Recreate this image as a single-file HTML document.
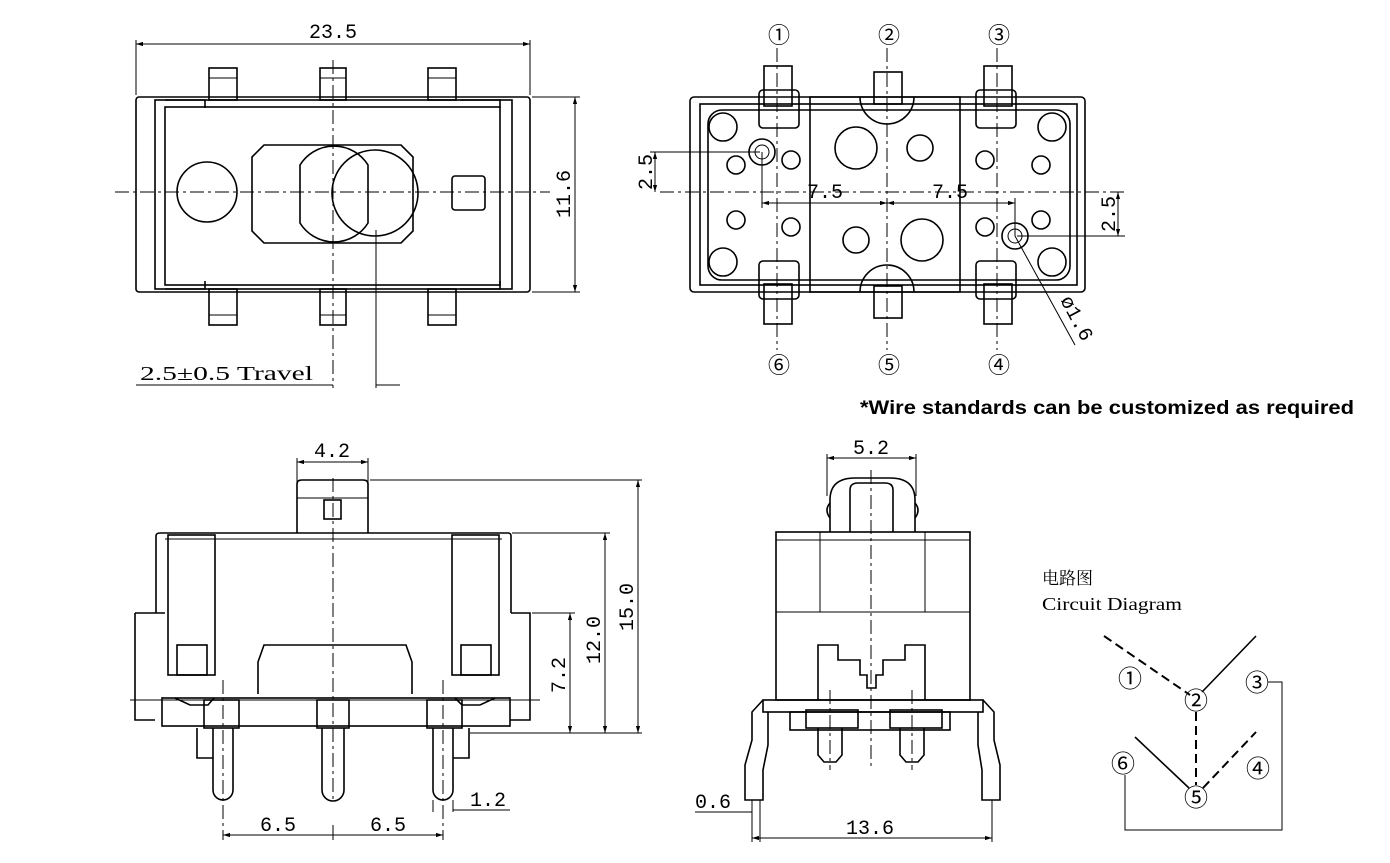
<!DOCTYPE html>
<html><head><meta charset="utf-8"><style>
html,body{margin:0;padding:0;background:#fff;}
svg{display:block}
text{font-family:"Liberation Mono","Noto Sans CJK SC",monospace;fill:#000}
.s{fill:none;stroke:#000;stroke-width:1.6}
.t{fill:none;stroke:#000;stroke-width:1}
.c{fill:none;stroke:#000;stroke-width:1;stroke-dasharray:14 4 3 4}
.d{fill:none;stroke:#000;stroke-width:2;stroke-dasharray:9 5}
</style></head><body>
<svg width="1390" height="863" viewBox="0 0 1390 863" xmlns="http://www.w3.org/2000/svg">
<defs>
<marker id="a" viewBox="0 0 10 10" refX="10" refY="5" markerWidth="7" markerHeight="7" orient="auto-start-reverse"><path d="M0,2 L10,5 L0,8" fill="#000"/></marker>
</defs>

<!-- ===== TOP LEFT VIEW ===== -->
<g>
<line class="t" x1="136" y1="40" x2="136" y2="95"/><line class="t" x1="530" y1="40" x2="530" y2="95"/>
<line class="t" x1="136" y1="44" x2="530" y2="44" marker-start="url(#a)" marker-end="url(#a)"/>
<text x="333" y="38" font-size="20" text-anchor="middle">23.5</text>
<line class="t" x1="532" y1="97" x2="580" y2="97"/><line class="t" x1="532" y1="292" x2="580" y2="292"/>
<line class="t" x1="575" y1="97" x2="575" y2="292" marker-start="url(#a)" marker-end="url(#a)"/>
<text font-size="20" text-anchor="middle" transform="translate(570,194) rotate(-90)">11.6</text>
<rect class="s" x="136" y="97" width="394" height="195" rx="3"/>
<rect class="s" x="155" y="100" width="357" height="189"/>
<rect class="s" x="165" y="107" width="335" height="178"/>
<path class="s" d="M165,100 h40 v8 M460,100 h40 v8 M165,289 h40 v-8 M460,289 h40 v-8"/>
<rect class="s" x="209" y="68" width="28" height="32"/><rect class="s" x="320" y="68" width="26" height="32"/><rect class="s" x="428" y="68" width="28" height="32"/>
<rect class="s" x="209" y="289" width="28" height="36"/><rect class="s" x="320" y="289" width="26" height="36"/><rect class="s" x="428" y="289" width="28" height="36"/>
<line class="t" x1="209" y1="78" x2="237" y2="78"/><line class="t" x1="320" y1="78" x2="346" y2="78"/><line class="t" x1="428" y1="78" x2="456" y2="78"/>
<line class="t" x1="209" y1="315" x2="237" y2="315"/><line class="t" x1="320" y1="315" x2="346" y2="315"/><line class="t" x1="428" y1="315" x2="456" y2="315"/>
<circle class="s" cx="207" cy="192" r="30"/>
<path class="s" d="M264,145 H401 L413,157 V231 L401,243 H264 L252,231 V157 Z"/>
<circle class="s" cx="375" cy="193" r="43"/>
<path class="s" d="M300,165 A40,40 0 0 1 368,165 V223 A40,40 0 0 1 300,223 Z" fill="#fff"/>
<rect class="s" x="452" y="176" width="33" height="34" rx="3"/>
<line class="c" x1="115" y1="192" x2="550" y2="192"/>
<line class="c" x1="333" y1="60" x2="333" y2="388"/>
<line class="t" x1="376" y1="230" x2="376" y2="388"/>
<line class="t" x1="136" y1="385" x2="333" y2="385"/>
<line class="t" x1="376" y1="385" x2="400" y2="385"/>
<text x="140" y="380" font-size="20" textLength="173" lengthAdjust="spacingAndGlyphs" style="font-family:'Liberation Serif',serif">2.5±0.5 Travel</text>
</g>

<!-- ===== TOP RIGHT VIEW ===== -->
<g>
<rect class="s" x="690" y="97" width="395" height="195" rx="4"/>
<rect class="s" x="700" y="104" width="377" height="181"/>
<rect class="s" x="708" y="110" width="362" height="170" rx="14"/>
<path class="s" d="M810,97 H960 V292 H810 Z" fill="#fff"/>
<path class="s" d="M860,97 A27,27 0 0 0 914,97 M860,292 A27,27 0 0 1 914,292"/>
<rect class="s" x="759" y="90" width="40" height="38" rx="4" fill="#fff"/>
<rect class="s" x="976" y="90" width="40" height="38" rx="4" fill="#fff"/>
<rect class="s" x="759" y="261" width="40" height="38" rx="4" fill="#fff"/>
<rect class="s" x="976" y="261" width="40" height="38" rx="4" fill="#fff"/>
<rect class="s" x="764" y="66" width="28" height="40"/><rect class="s" x="874" y="72" width="28" height="32"/><rect class="s" x="984" y="66" width="28" height="40"/>
<rect class="s" x="764" y="284" width="28" height="40"/><rect class="s" x="874" y="286" width="28" height="32"/><rect class="s" x="984" y="284" width="28" height="40"/>
<circle class="s" cx="723" cy="127" r="14"/><circle class="s" cx="1052" cy="127" r="14"/>
<circle class="s" cx="723" cy="262" r="14"/><circle class="s" cx="1052" cy="262" r="14"/>
<circle class="s" cx="736" cy="165" r="9"/><circle class="s" cx="736" cy="220" r="9"/><circle class="s" cx="791" cy="160" r="9"/><circle class="s" cx="791" cy="227" r="9"/>
<circle class="s" cx="985" cy="160" r="9"/><circle class="s" cx="985" cy="227" r="9"/><circle class="s" cx="1041" cy="165" r="9"/><circle class="s" cx="1041" cy="220" r="9"/>
<circle class="s" cx="856" cy="148" r="21"/><circle class="s" cx="920" cy="148" r="13"/>
<circle class="s" cx="856" cy="240" r="13"/><circle class="s" cx="922" cy="240" r="21"/>
<circle class="s" cx="762" cy="152" r="13"/><circle class="t" cx="762" cy="152" r="7"/>
<circle class="s" cx="1015" cy="236" r="13"/><circle class="t" cx="1015" cy="236" r="7"/>
<line class="c" x1="660" y1="192" x2="1125" y2="192"/>
<line class="c" x1="777" y1="48" x2="777" y2="350"/><line class="c" x1="887" y1="48" x2="887" y2="350"/><line class="c" x1="997" y1="48" x2="997" y2="350"/>
<line class="t" x1="650" y1="152" x2="760" y2="152"/>
<line class="t" x1="655" y1="152" x2="655" y2="192" marker-start="url(#a)" marker-end="url(#a)"/>
<text font-size="20" text-anchor="middle" transform="translate(652,172) rotate(-90)">2.5</text>
<line class="t" x1="762" y1="152" x2="762" y2="208"/><line class="t" x1="1015" y1="236" x2="1015" y2="198"/>
<line class="t" x1="762" y1="203" x2="887" y2="203" marker-start="url(#a)" marker-end="url(#a)"/>
<line class="t" x1="887" y1="203" x2="1015" y2="203" marker-start="url(#a)" marker-end="url(#a)"/>
<text x="825" y="198" font-size="20" text-anchor="middle">7.5</text>
<text x="950" y="198" font-size="20" text-anchor="middle">7.5</text>
<line class="t" x1="1017" y1="236" x2="1125" y2="236"/>
<line class="t" x1="1118" y1="192" x2="1118" y2="236" marker-start="url(#a)" marker-end="url(#a)"/>
<text font-size="20" text-anchor="middle" transform="translate(1115,214) rotate(-90)">2.5</text>
<line class="t" x1="1015" y1="236" x2="1075" y2="345"/>
<text font-size="20" transform="translate(1060,300) rotate(62)">ø1.6</text>
<g font-size="22" text-anchor="middle" style="font-family:'DejaVu Sans',sans-serif">
<text x="779" y="43">①</text><text x="889" y="43">②</text><text x="999" y="43">③</text>
<text x="779" y="373">⑥</text><text x="889" y="373">⑤</text><text x="999" y="373">④</text>
</g>
<text x="860" y="414" font-size="19" font-weight="bold" textLength="494" lengthAdjust="spacingAndGlyphs" style="font-family:'Liberation Sans',sans-serif">*Wire standards can be customized as required</text>
</g>

<!-- ===== BOTTOM LEFT VIEW ===== -->
<g>
<line class="t" x1="297" y1="458" x2="297" y2="482"/><line class="t" x1="368" y1="458" x2="368" y2="482"/>
<line class="t" x1="297" y1="462" x2="368" y2="462" marker-start="url(#a)" marker-end="url(#a)"/>
<text x="332" y="457" font-size="20" text-anchor="middle">4.2</text>
<path class="s" d="M297,533 V484 Q297,480 302,480 H363 Q368,480 368,484 V533"/>
<line class="t" x1="297" y1="498" x2="368" y2="498"/>
<rect class="s" x="324" y="500" width="17" height="19"/>
<path class="s" d="M156,613 V536 Q156,533 160,533 H508 Q511,533 511,536 V613"/>
<line class="t" x1="165" y1="539" x2="502" y2="539"/>
<rect class="s" x="168" y="535" width="47" height="140"/><rect class="s" x="452" y="535" width="47" height="140"/>
<rect class="s" x="177" y="645" width="30" height="30"/><rect class="s" x="461" y="645" width="30" height="30"/>
<path class="s" d="M135,613 H165 M135,613 V700 M511,613 H530 V700"/>
<path class="s" d="M135,700 V720 H155 M530,700 V720 H510"/>
<path class="s" d="M258,694 V662 L264,645 H406 L412,662 V694"/>
<path class="s" d="M175,698 L190,705 H208 L214,698"/>
<path class="s" d="M455,698 L462,705 H480 L495,698"/>
<rect class="s" x="162" y="698" width="348" height="28"/>
<line class="t" x1="130" y1="700" x2="540" y2="700"/>
<rect class="s" x="204" y="700" width="35" height="28"/><rect class="s" x="317" y="700" width="32" height="28"/><rect class="s" x="427" y="700" width="35" height="28"/>
<path class="s" d="M213,728 V790 A10,10 0 0 0 233,790 V728"/>
<path class="s" d="M322,728 V790 A11,11 0 0 0 344,790 V728"/>
<path class="s" d="M433,728 V790 A10,10 0 0 0 453,790 V728"/>
<path class="s" d="M197,728 V758 H213 M453,758 H469 V728"/>
<line class="c" x1="333" y1="478" x2="333" y2="800"/>
<line class="c" x1="223" y1="680" x2="223" y2="840"/><line class="c" x1="443" y1="680" x2="443" y2="840"/>
<line class="t" x1="370" y1="480" x2="642" y2="480"/>
<line class="t" x1="512" y1="533" x2="610" y2="533"/>
<line class="t" x1="532" y1="613" x2="575" y2="613"/>
<line class="t" x1="470" y1="733" x2="642" y2="733"/>
<line class="t" x1="638" y1="480" x2="638" y2="733" marker-start="url(#a)" marker-end="url(#a)"/>
<line class="t" x1="605" y1="533" x2="605" y2="733" marker-start="url(#a)" marker-end="url(#a)"/>
<line class="t" x1="570" y1="613" x2="570" y2="733" marker-start="url(#a)" marker-end="url(#a)"/>
<text font-size="20" text-anchor="middle" transform="translate(633,607) rotate(-90)">15.0</text>
<text font-size="20" text-anchor="middle" transform="translate(600,640) rotate(-90)">12.0</text>
<text font-size="20" text-anchor="middle" transform="translate(565,675) rotate(-90)">7.2</text>
<line class="t" x1="223" y1="835" x2="443" y2="835" marker-start="url(#a)" marker-end="url(#a)"/>
<line class="t" x1="333" y1="825" x2="333" y2="840"/>
<text x="278" y="831" font-size="20" text-anchor="middle">6.5</text>
<text x="388" y="831" font-size="20" text-anchor="middle">6.5</text>
<line class="t" x1="433" y1="800" x2="433" y2="812"/><line class="t" x1="453" y1="800" x2="453" y2="812"/>
<line class="t" x1="453" y1="810" x2="510" y2="810"/>
<text x="470" y="806" font-size="20">1.2</text>
</g>

<!-- ===== BOTTOM RIGHT VIEW ===== -->
<g>
<line class="t" x1="827" y1="454" x2="827" y2="496"/><line class="t" x1="916" y1="454" x2="916" y2="496"/>
<line class="t" x1="827" y1="458" x2="916" y2="458" marker-start="url(#a)" marker-end="url(#a)"/>
<text x="871" y="454" font-size="20" text-anchor="middle">5.2</text>
<path class="s" d="M830,532 V500 Q830,478 855,478 H890 Q915,478 915,500 V532"/>
<path class="s" d="M850,532 V490 Q850,483 858,483 H885 Q893,483 893,490 V532"/>
<path class="s" d="M830,503 Q824,510 830,518 M915,503 Q921,510 915,518"/>
<rect class="s" x="776" y="532" width="194" height="168"/>
<line class="t" x1="776" y1="540" x2="970" y2="540"/>
<line class="t" x1="776" y1="612" x2="970" y2="612"/>
<line class="t" x1="820" y1="532" x2="820" y2="612"/><line class="t" x1="925" y1="532" x2="925" y2="612"/>
<path class="s" d="M818,700 V645 H838 V660 H860 V675 H867 V688 H876 V675 H883 V660 H905 V645 H925 V700"/>
<rect class="s" x="763" y="700" width="220" height="12"/>
<rect class="s" x="790" y="712" width="160" height="18"/>
<rect class="s" x="806" y="710" width="52" height="18"/><rect class="s" x="890" y="710" width="52" height="18"/>
<path class="s" d="M818,728 V755 L824,762 H836 L842,755 V728 M900,728 V755 L906,762 H918 L924,755 V728"/>
<path class="s" d="M763,700 L752,712 V740 L745,765 V800 H763 V770 L768,745 V712"/>
<path class="s" d="M983,700 L994,712 V740 L1000,765 V800 H982 V770 L978,745 V712"/>
<line class="c" x1="871" y1="470" x2="871" y2="770"/>
<line class="c" x1="830" y1="690" x2="830" y2="770"/><line class="c" x1="912" y1="690" x2="912" y2="770"/>
<line class="t" x1="752" y1="800" x2="752" y2="842"/><line class="t" x1="760" y1="800" x2="760" y2="842"/><line class="t" x1="992" y1="800" x2="992" y2="842"/>
<line class="t" x1="695" y1="812" x2="752" y2="812"/>
<text x="695" y="808" font-size="20">0.6</text>
<line class="t" x1="752" y1="838" x2="992" y2="838" marker-start="url(#a)" marker-end="url(#a)"/>
<text x="870" y="834" font-size="20" text-anchor="middle">13.6</text>
</g>

<!-- ===== CIRCUIT ===== -->
<g>
<text x="1042" y="584" font-size="17" style="font-family:'Liberation Serif','Noto Serif CJK SC',serif">电路图</text>
<text x="1042" y="610" font-size="18" textLength="140" lengthAdjust="spacingAndGlyphs" style="font-family:'Liberation Serif',serif">Circuit Diagram</text>
<line class="d" x1="1104" y1="636" x2="1190" y2="695"/>
<line class="s" x1="1202" y1="692" x2="1256" y2="636"/>
<line class="d" x1="1196" y1="712" x2="1196" y2="785"/>
<line class="s" x1="1135" y1="737" x2="1189" y2="788"/>
<line class="d" x1="1203" y1="788" x2="1256" y2="732"/>
<polyline class="t" points="1268,682 1282,682 1282,830 1125,830 1125,775"/>
<g font-size="24" text-anchor="middle" style="font-family:'DejaVu Sans',sans-serif">
<text x="1130" y="687">①</text><text x="1196" y="709">②</text><text x="1257" y="691">③</text>
<text x="1123" y="772">⑥</text><text x="1196" y="806">⑤</text><text x="1258" y="777">④</text>
</g>
</g>
</svg>
</body></html>
